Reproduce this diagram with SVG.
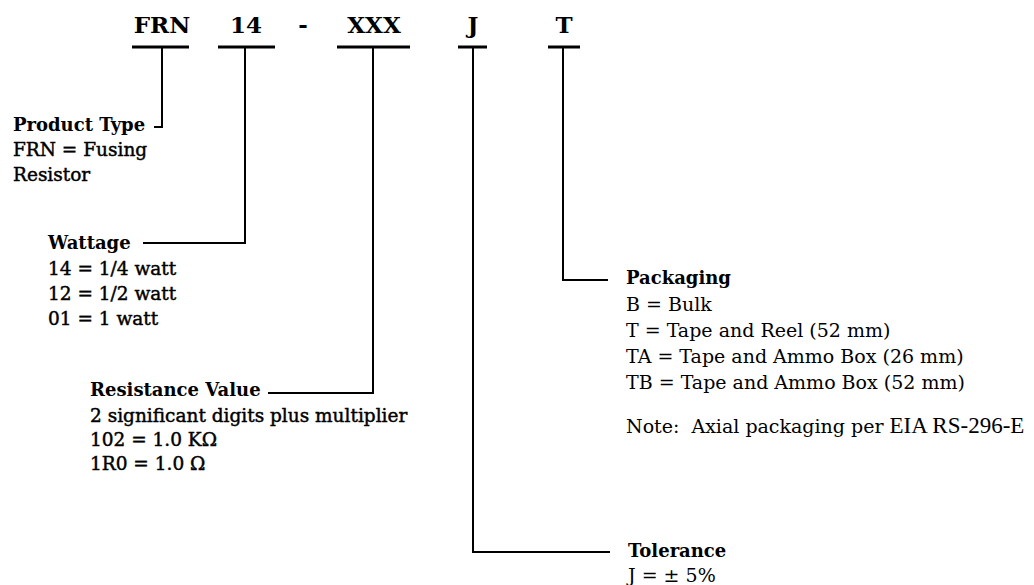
<svg xmlns="http://www.w3.org/2000/svg" width="1034" height="585" viewBox="0 0 1034 585">
<style>
.code{font-family:"DejaVu Serif","Liberation Serif",serif;font-weight:bold;font-size:23px;fill:#000;text-anchor:middle}
.hd{font-family:"DejaVu Serif","Liberation Serif",serif;font-weight:bold;font-size:18px;fill:#000}
.it{font-family:"DejaVu Serif","Liberation Serif",serif;font-size:18.5px;fill:#000;stroke:#000;stroke-width:0.45}
.rt{font-family:"DejaVu Serif","Liberation Serif",serif;font-size:19px;fill:#000}
.eia{font-family:"Liberation Serif",serif;font-size:23px}
.bar{stroke:#000;stroke-width:3;fill:none}
.ln{stroke:#000;stroke-width:2;fill:none}
</style>
<rect width="1034" height="585" fill="#fff"/>
<g id="code">
<text class="code" x="162" y="33">FRN</text>
<text class="code" x="246" y="33">14</text>
<text class="code" x="303" y="33">-</text>
<text class="code" x="374" y="33">XXX</text>
<text class="code" x="473" y="33">J</text>
<text class="code" x="564" y="33">T</text>
</g>
<g id="connectors">
<path class="bar" d="M132 47H189M218 47H275M337 47H410M458 47H487M548 47H580"/>
<path class="ln" d="M162 47V127H154"/>
<path class="ln" d="M245 47V243H143"/>
<path class="ln" d="M373 47V393H268"/>
<path class="ln" d="M473 47V552H610"/>
<path class="ln" d="M563 47V280H608"/>
</g>
<g id="product-type">
<text class="hd" x="13" y="131">Product Type</text>
<text class="it" x="13" y="156">FRN = Fusing</text>
<text class="it" x="13" y="181">Resistor</text>
</g>
<g id="wattage">
<text class="hd" x="48" y="249">Wattage</text>
<text class="it" x="48" y="275">14 = 1/4 watt</text>
<text class="it" x="48" y="300">12 = 1/2 watt</text>
<text class="it" x="48" y="325">01 = 1 watt</text>
</g>
<g id="resistance">
<text class="hd" x="90" y="396">Resistance Value</text>
<text class="it" x="90" y="422">2 significant digits plus multiplier</text>
<text class="it" x="90" y="446">102 = 1.0 KΩ</text>
<text class="it" x="90" y="470">1R0 = 1.0 Ω</text>
</g>
<g id="packaging">
<text class="hd" x="626" y="284">Packaging</text>
<text class="rt" x="626" y="311">B = Bulk</text>
<text class="rt" x="626" y="337">T = Tape and Reel (52 mm)</text>
<text class="rt" x="626" y="363">TA = Tape and Ammo Box (26 mm)</text>
<text class="rt" x="626" y="389">TB = Tape and Ammo Box (52 mm)</text>
<text class="rt" x="626" y="433" xml:space="preserve">Note:  Axial packaging per <tspan class="eia">EIA RS-296-E</tspan></text>
</g>
<g id="tolerance">
<text class="hd" x="628" y="557">Tolerance</text>
<text class="rt" x="628" y="582">J = ± 5%</text>
</g>
</svg>
